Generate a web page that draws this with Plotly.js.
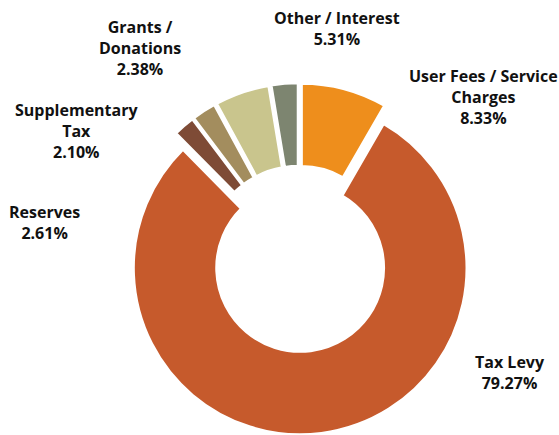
<!DOCTYPE html>
<html>
<head>
<meta charset="utf-8">
<script src="https://cdn.plot.ly/plotly-3.0.1.min.js"></script>
<style>html,body{margin:0;padding:0;background:#fff;}#chart{width:559px;height:435px;}</style>
</head>
<body>
<div id="chart"></div>
<script>
// Data (clockwise from 12 o'clock)
var categories = ['User Fees / Service Charges', 'Tax Levy', 'Supplementary Tax', 'Grants / Donations', 'Other / Interest', 'Reserves'];
var displayLabels = ['User Fees / Service<br>Charges', 'Tax Levy', 'Supplementary<br>Tax', 'Grants /<br>Donations', 'Other / Interest', 'Reserves'];
var shares = [8.33, 79.27, 2.10, 2.38, 5.31, 2.61];
var sliceColors = ['#EE8E1C', '#C65A2C', '#7E4B36', '#A38D5E', '#C9C58D', '#7D8570'];

// label block centres (pixels) for each category
var labelPos = [[483, 97], [510, 372], [76, 131], [140, 48], [337, 29], [44, 223]];

var W = 559, H = 435;
var annotations = categories.map(function (c, i) {
  return {
    xref: 'paper', yref: 'paper',
    x: labelPos[i][0] / W, y: 1 - labelPos[i][1] / H,
    xanchor: 'center', yanchor: 'middle',
    text: displayLabels[i] + '<br>' + shares[i].toFixed(2) + '%',
    showarrow: false, align: 'center',
    font: {family: 'Open Sans, sans-serif', size: 16, color: '#111111', weight: 'bold'}
  };
});

var trace = {
  type: 'pie',
  labels: categories,
  values: shares,
  sort: false,
  direction: 'clockwise',
  rotation: 0,
  hole: 0.5,
  pull: shares.map(function () { return 0.055; }),
  marker: {colors: sliceColors, line: {color: '#ffffff', width: 3}},
  textinfo: 'none',
  hoverinfo: 'label+percent',
  domain: {x: [0.2200, 0.8497], y: [0, 0.81]}
};

var layout = {
  width: W, height: H,
  margin: {l: 0, r: 0, t: 0, b: 0},
  paper_bgcolor: '#ffffff',
  showlegend: false,
  annotations: annotations
};

Plotly.newPlot('chart', [trace], layout, {displayModeBar: false, staticPlot: true});
</script>
</body>
</html>
